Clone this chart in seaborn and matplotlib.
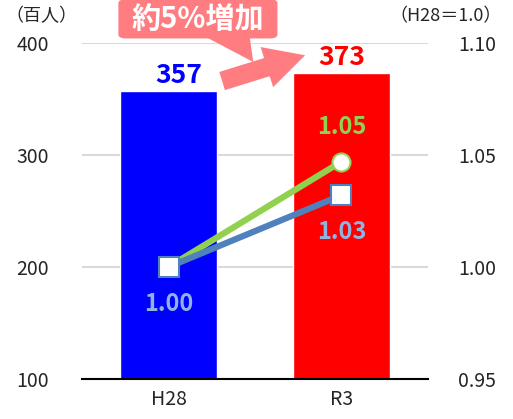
import seaborn as sns
import pandas as pd
import matplotlib.pyplot as plt
from matplotlib.patches import FancyBboxPatch, Polygon, FancyArrow

# data
years = ["H28", "R3"]
population = [357, 373]          # 百人
bar_colors = ["#0000FF", "#FF0000"]
index_green = [1.00, 1.047]      # H28 = 1.0
index_blue = [1.00, 1.032]
left_ticks = [100, 200, 300, 400]
right_ticks = [0.95, 1.00, 1.05, 1.10]

sns.set_style("white")
plt.rcParams['font.family'] = ['Noto Sans CJK JP', 'DejaVu Sans']

df = pd.DataFrame({"year": years, "pop": population})

fig = plt.figure(figsize=(5.13, 4.19), dpi=100)
ax = fig.add_axes([0.16, 0.0955, 0.674, 0.802])

sns.barplot(data=df, x="year", y="pop", hue="year", palette=bar_colors,
            width=0.56, saturation=1, legend=False, ax=ax, zorder=2)
ax.set_ylim(100, 400)
ax.set_xlim(-0.5, 1.5)
ax.set_yticks(left_ticks)
ax.grid(axis="y", color="#D9D9D9", linewidth=1.5, zorder=0)
ax.set_axisbelow(True)
ax.set_xlabel("")
ax.set_ylabel("")
for s in ["top", "right", "left"]:
    ax.spines[s].set_visible(False)
ax.spines["bottom"].set_color("black")
ax.spines["bottom"].set_linewidth(1.5)
ax.tick_params(axis="y", length=0, pad=24, labelsize=14)
ax.tick_params(axis="x", length=0, pad=7, labelsize=14)

# bar value labels
label_colors = ["#0000FF", "#FF0000"]
for i, v in enumerate(population):
    ax.text(i + 0.06 * (1 - i), v + 2, str(v), color=label_colors[i],
            ha="center", va="bottom", fontsize=19, fontweight="bold")

# index lines on right axis
ax2 = ax.twinx()
xs = list(range(len(years)))
sns.lineplot(x=xs, y=index_green, ax=ax2, color="#92D050", linewidth=4.5,
             marker="o", markersize=13, markerfacecolor="white",
             markeredgecolor="#92D050", markeredgewidth=1.5, zorder=3)
sns.lineplot(x=xs, y=index_blue, ax=ax2, color="#4F81BD", linewidth=4.5,
             marker="s", markersize=14, markerfacecolor="white",
             markeredgecolor="#4F81BD", markeredgewidth=1.5, zorder=4)
ax2.set_ylim(0.95, 1.10)
ax2.set_yticks(right_ticks)
ax2.set_yticklabels([f"{t:.2f}" for t in right_ticks])
ax2.tick_params(axis="y", length=0, pad=22, labelsize=14)
for s in ax2.spines.values():
    s.set_visible(False)
ax2.set_xlim(-0.5, 1.5)

ax2.text(0, index_blue[0] - 0.011, f"{index_blue[0]:.2f}", color="#8DB4E2",
         ha="center", va="top", fontsize=17, fontweight="bold")
ax2.text(1, index_blue[1] - 0.011, f"{index_blue[1]:.2f}", color="#8DB4E2",
         ha="center", va="top", fontsize=17, fontweight="bold")
ax2.text(1, index_green[1] + 0.010, f"{index_green[1]:.2f}", color="#92D050",
         ha="center", va="bottom", fontsize=17, fontweight="bold")

# axis unit labels
fig.text(0.081, 0.962, "（百人）", ha="center", va="center", fontsize=13)
fig.text(0.868, 0.962, "（H28＝1.0）", ha="center", va="center", fontsize=13)

# callout banner and arrow
pink = "#FF7C80"
box = FancyBboxPatch((-0.29, 404), 0.92, 35, boxstyle="round,pad=0,rounding_size=0.045",
                     mutation_aspect=80, facecolor=pink, edgecolor="none",
                     clip_on=False, zorder=5)
ax.add_patch(box)
tail = Polygon([(0.22, 405), (0.47, 405), (0.49, 383)], closed=True,
               facecolor=pink, edgecolor="none", clip_on=False, zorder=5)
ax.add_patch(tail)
ax.text(0.17, 421, "約5%増加", color="white", ha="center", va="center",
        fontsize=21, fontweight="bold", zorder=6, clip_on=False)

arrow_trans = ax.transData
p0 = arrow_trans.transform((0.31, 366))
p1 = arrow_trans.transform((0.79, 389))
arr = FancyArrow(p0[0], p0[1], p1[0] - p0[0], p1[1] - p0[1], width=19,
                 head_width=42, head_length=40, length_includes_head=True,
                 transform=None, facecolor=pink, edgecolor="none", zorder=6)
fig.patches.append(arr)

fig.savefig("out.png", dpi=100)
